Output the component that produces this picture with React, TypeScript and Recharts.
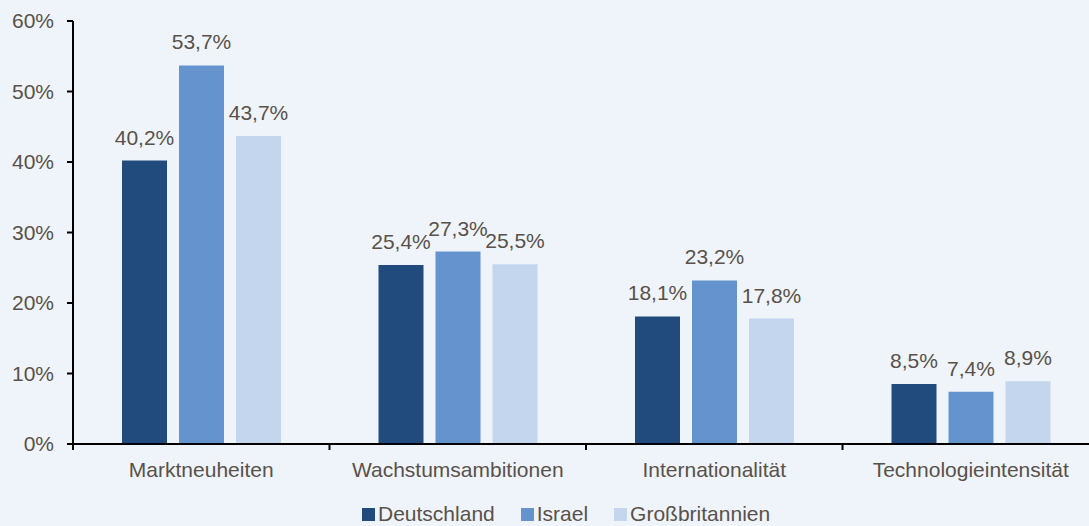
import React from 'react';
import { BarChart, Bar, XAxis, YAxis, Legend, LabelList } from 'recharts';

const categories = ['Marktneuheiten', 'Wachstumsambitionen', 'Internationalität', 'Technologieintensität'];
const deutschland = [40.2, 25.4, 18.1, 8.5];
const israel = [53.7, 27.3, 23.2, 7.4];
const grossbritannien = [43.7, 25.5, 17.8, 8.9];
const yTicks = [0, 10, 20, 30, 40, 50, 60];
const seriesKeys = ['de', 'il', 'gb'];
const seriesNames = ['Deutschland', 'Israel', 'Großbritannien'];
const seriesColors = ['#214A7D', '#6593CD', '#C3D6EE'];

const data = categories.map((name, i) => ({
  name,
  de: deutschland[i],
  il: israel[i],
  gb: grossbritannien[i],
}));

const FONT = '"Liberation Sans", Arial, Helvetica, sans-serif';
const TEXT = '#59514A';
const BG = '#EFF4FB';

const fmt = (v: number) => `${v.toFixed(1).replace('.', ',')}%`;

const XTick = (props: any) => {
  const { x, y, payload, index, visibleTicksCount } = props;
  const half = payload && typeof payload.offset === 'number' ? payload.offset : 0;
  return (
    <g>
      <line x1={x - half} x2={x - half} y1={y} y2={y + 6} stroke="#000" strokeWidth={2} />
      {index === visibleTicksCount - 1 && (
        <line x1={x + half} x2={x + half} y1={y} y2={y + 6} stroke="#000" strokeWidth={2} />
      )}
      <text x={x} y={y + 33} textAnchor="middle" fontSize={21} fill={TEXT} fontFamily={FONT}>
        {payload.value}
      </text>
    </g>
  );
};

const ValueLabel = (props: any) => {
  const { x, y, width, value } = props;
  return (
    <text x={x + width / 2} y={y - 16} textAnchor="middle" fontSize={21} fill={TEXT} fontFamily={FONT}>
      {fmt(Number(value))}
    </text>
  );
};

const LegendContent = () => (
  <div style={{ display: 'flex', fontFamily: FONT, fontSize: 21, lineHeight: '24px', color: TEXT, whiteSpace: 'nowrap' }}>
    {seriesNames.map((n, i) => (
      <div key={n} style={{ marginRight: 26 }}>
        <span
          style={{
            display: 'inline-block',
            width: 13,
            height: 13,
            background: seriesColors[i],
            marginRight: 3,
            verticalAlign: 'baseline',
          }}
        />
        <span>{n}</span>
      </div>
    ))}
  </div>
);

export default function App() {
  return (
    <div
      style={{
        position: 'absolute',
        left: 0,
        top: 0,
        width: 1089,
        height: 526,
        overflow: 'hidden',
        background: BG,
      }}
    >
      <BarChart
        width={1110}
        height={526}
        data={data}
        margin={{ top: 21, right: 11, bottom: 42, left: 0 }}
        barSize={45}
        barGap={12}
        style={{ fontFamily: FONT }}
      >
        <XAxis
          dataKey="name"
          type="category"
          height={40}
          interval={0}
          tickLine={false}
          tickSize={0}
          tickMargin={0}
          axisLine={{ stroke: '#000', strokeWidth: 2 }}
          tick={<XTick />}
        />
        <YAxis
          width={73}
          domain={[0, 60]}
          ticks={yTicks}
          interval={0}
          tickFormatter={(v: number) => `${v}%`}
          axisLine={{ stroke: '#000', strokeWidth: 2 }}
          tickLine={{ stroke: '#000', strokeWidth: 2 }}
          tickSize={6}
          tickMargin={13}
          tick={{ fontSize: 21, fill: TEXT, fontFamily: FONT }}
        />
        <Legend
          layout="horizontal"
          verticalAlign="middle"
          align="center"
          wrapperStyle={{ top: 502, left: 362, width: 460, height: 24 }}
          content={<LegendContent />}
        />
        {seriesKeys.map((k, i) => (
          <Bar key={k} dataKey={k} name={seriesNames[i]} fill={seriesColors[i]} isAnimationActive={false}>
            <LabelList dataKey={k} content={<ValueLabel />} />
          </Bar>
        ))}
      </BarChart>
    </div>
  );
}
